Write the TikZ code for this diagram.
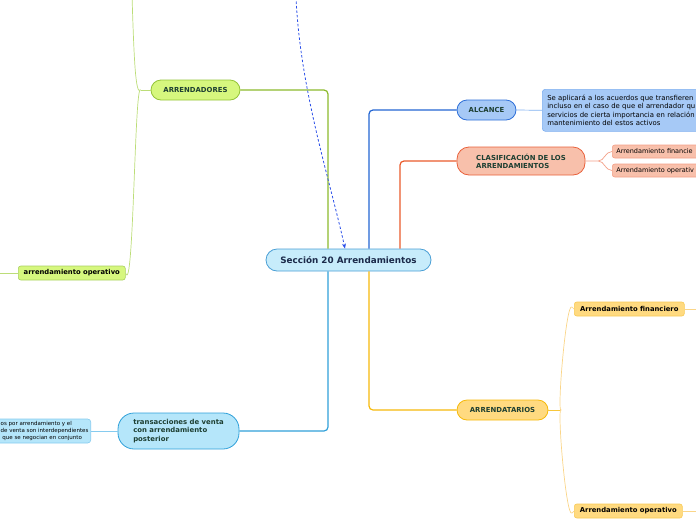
\documentclass[tikz,border=0pt]{standalone}
\usepackage{fontspec}
\setmainfont{DejaVu Sans}
\usetikzlibrary{arrows.meta}
\definecolor{cenfill}{HTML}{C7ECFB}
\definecolor{cendraw}{HTML}{4A9FD5}
\definecolor{centxt}{HTML}{1B2A4A}
\definecolor{hdtxt}{HTML}{1D3F32}
\definecolor{grnline}{HTML}{8CBA2C}
\definecolor{grnfill}{HTML}{D6F77E}
\definecolor{grndraw}{HTML}{94C438}
\definecolor{grnthin}{HTML}{BCDD78}
\definecolor{bluline}{HTML}{2466D3}
\definecolor{blufill}{HTML}{A6C9F6}
\definecolor{bludraw}{HTML}{2E6FD8}
\definecolor{bluthin}{HTML}{7FB0F0}
\definecolor{orgline}{HTML}{EA5A2B}
\definecolor{orgfill}{HTML}{F8C0AB}
\definecolor{orgdraw}{HTML}{E9603A}
\definecolor{orgthin}{HTML}{F3A088}
\definecolor{yelline}{HTML}{F6B90A}
\definecolor{yelfill}{HTML}{FFDA80}
\definecolor{yeldraw}{HTML}{F6B90A}
\definecolor{yelthin}{HTML}{FAD588}
\definecolor{cyaline}{HTML}{2F9FD8}
\definecolor{cyafill}{HTML}{B5E6FA}
\definecolor{cyadraw}{HTML}{2FA0D9}
\definecolor{cyathin}{HTML}{86CBEF}
\definecolor{dashblue}{HTML}{2A4EE8}
\begin{document}
\begin{tikzpicture}[x=1pt,y=-1pt,
  pill/.style={draw, line width=0.8pt, inner sep=0pt, align=center, font=\fontsize{6.9}{8}\selectfont\bfseries, text=hdtxt},
  leaf/.style={draw, line width=0.6pt, rounded corners=2.5pt, inner sep=0pt, anchor=west, font=\fontsize{6.8}{8}\selectfont\bfseries, text=black},
  mainline/.style={line width=1.2pt, rounded corners=4pt},
  thinline/.style={line width=0.7pt}]
\useasboundingbox (0,0) rectangle (696,520);
\clip (0,0) rectangle (696,520);

% central
\node[pill, fill=cenfill, draw=cendraw, minimum width=165pt, minimum height=22pt, rounded corners=11pt,
  font=\fontsize{8.8}{10}\selectfont\bfseries, text=centxt] (c) at (348.5,260) {Sección 20 Arrendamientos};

% main branches
\node[pill, fill=grnfill, draw=grndraw, minimum width=89pt, minimum height=20pt, rounded corners=10pt] (arr) at (195.5,90) {ARRENDADORES};
\node[pill, fill=blufill, draw=bludraw, minimum width=59pt, minimum height=20pt, rounded corners=10pt] (alc) at (486.5,110) {ALCANCE};
\node[pill, fill=orgfill, draw=orgdraw, minimum width=128pt, minimum height=28pt, rounded corners=12pt, align=left] (cla) at (521,161) {CLASIFICACIÓN DE LOS\\ARRENDAMIENTOS};
\node[pill, fill=yelfill, draw=yeldraw, minimum width=91pt, minimum height=20pt, rounded corners=10pt] (ata) at (502.5,410) {ARRENDATARIOS};
\node[pill, fill=cyafill, draw=cyadraw, minimum width=121pt, minimum height=36pt, rounded corners=16pt, align=left,
  font=\fontsize{6.9}{8.6}\selectfont\bfseries] (tra) at (178.5,431) {transacciones de venta\\con arrendamiento\\posterior};

% leaves
\node[draw=bluthin, fill=blufill, line width=0.6pt, rounded corners=3pt, anchor=north west, inner xsep=4pt, inner ysep=4pt,
  minimum width=200pt, minimum height=42pt, text width=190pt, align=left, font=\fontsize{6.9}{8.3}\selectfont, text=black] (alcbox) at (542,89)
  {Se aplicará a los acuerdos que transfieren\\incluso en el caso de que el arrendador qu\\servicios de cierta importancia en relación\\mantenimiento del estos activos};
\node[leaf, fill=orgfill, draw=orgthin, minimum width=100pt, minimum height=13pt, inner xsep=4pt, text width=92pt, align=left,
  font=\fontsize{6.5}{8}\selectfont] (of) at (612,151.5) {Arrendamiento financie};
\node[leaf, fill=orgfill, draw=orgthin, minimum width=100pt, minimum height=13pt, inner xsep=4pt, text width=92pt, align=left,
  font=\fontsize{6.5}{8}\selectfont] (oo) at (612,170.5) {Arrendamiento operativ};
\node[leaf, fill=yelfill, draw=yelthin!60!yeldraw, minimum width=110pt, minimum height=14pt] (yf) at (574,309) {Arrendamiento financiero};
\node[leaf, fill=yelfill, draw=yelthin!60!yeldraw, minimum width=108pt, minimum height=14pt] (yo) at (574,511) {Arrendamiento operativo};
\node[leaf, fill=grnfill, draw=grndraw!80!white, minimum width=107pt, minimum height=14pt] (go) at (18,273) {arrendamiento operativo};
\node[draw=cyathin, fill=cyafill, line width=0.6pt, rounded corners=3pt, anchor=east, inner sep=0pt,
  minimum width=120pt, minimum height=24pt] (lbox) at (91,431) {};
\node[anchor=west, align=left, font=\fontsize{5.5}{7}\selectfont, text=black, inner sep=0pt] (ltxt) at (0.5,431)
  {os por arrendamiento y el\\de venta son interdependientes\\\ que se negocian en conjunto};

% main connectors
\draw[mainline, grnline] ([xshift=-20.5pt]c.north) |- (arr.east);
\draw[mainline, bluline] ([xshift=20.5pt]c.north) |- (alc.west);
\draw[mainline, orgline] ([xshift=51.5pt]c.north) |- (cla.west);
\draw[mainline, yelline] ([xshift=20.5pt]c.south) |- (ata.west);
\draw[mainline, cyaline] ([xshift=-20.5pt]c.south) |- (tra.east);

% thin connectors
\draw[thinline, bluthin] (alc.east) -- (alcbox.west);
\coordinate (of0) at ([xshift=13pt]cla.east);
\draw[thinline, orgthin] (cla.east) -- (of0) .. controls ([xshift=6pt]of0) and ([xshift=-7pt]of.west) .. (of.west);
\draw[thinline, orgthin] (of0) .. controls ([xshift=6pt]of0) and ([xshift=-7pt]oo.west) .. (oo.west);
\coordinate (yf0) at ([xshift=13pt]ata.east);
\draw[thinline, yelline!80!white] (ata.east) -- (yf0);
\draw[thinline, yelthin] (yf0) .. controls ([xshift=-5pt,yshift=-8pt]yf0) and ([xshift=-8pt,yshift=8pt]yf.west) .. ([xshift=-2pt,yshift=2pt]yf.west) -- (yf.west);
\draw[thinline, yelthin] (yf0) .. controls ([xshift=-5pt,yshift=8pt]yf0) and ([xshift=-8pt,yshift=-8pt]yo.west) .. ([xshift=-2pt,yshift=-2pt]yo.west) -- (yo.west);
\coordinate (yfe) at (700,309);
\coordinate (yoe) at (700,511);
\draw[thinline, yelthin] (yf.east) -- (yfe);
\draw[thinline, yelthin] (yo.east) -- (yoe);
\coordinate (g0) at ([xshift=-10pt]arr.west);
\coordinate (gtop) at (132,-5);
\coordinate (gle) at (-5,273);
\draw[thinline, grnthin] (arr.west) -- (g0);
\draw[thinline, grnthin] (g0) .. controls ([xshift=-5pt,yshift=-6pt]g0) and (134,60) .. (gtop);
\draw[thinline, grnthin] (g0) .. controls ([xshift=-6pt,yshift=8pt]g0) and ([xshift=8pt,yshift=-25pt]go.east) .. (go.east);
\draw[thinline, grnthin] (gle) -- (go.west);
\draw[thinline, cyathin] (tra.west) -- (lbox.east);

% dashed relation
\coordinate (dstart) at (296,-3);
\draw[dashblue, line width=0.8pt, dash pattern=on 2.5pt off 2pt, -{Stealth[length=5pt,width=4pt]}]
  (dstart) .. controls (300,90) and (330,180) .. ([xshift=-3.5pt]c.north);
\end{tikzpicture}
\end{document}
